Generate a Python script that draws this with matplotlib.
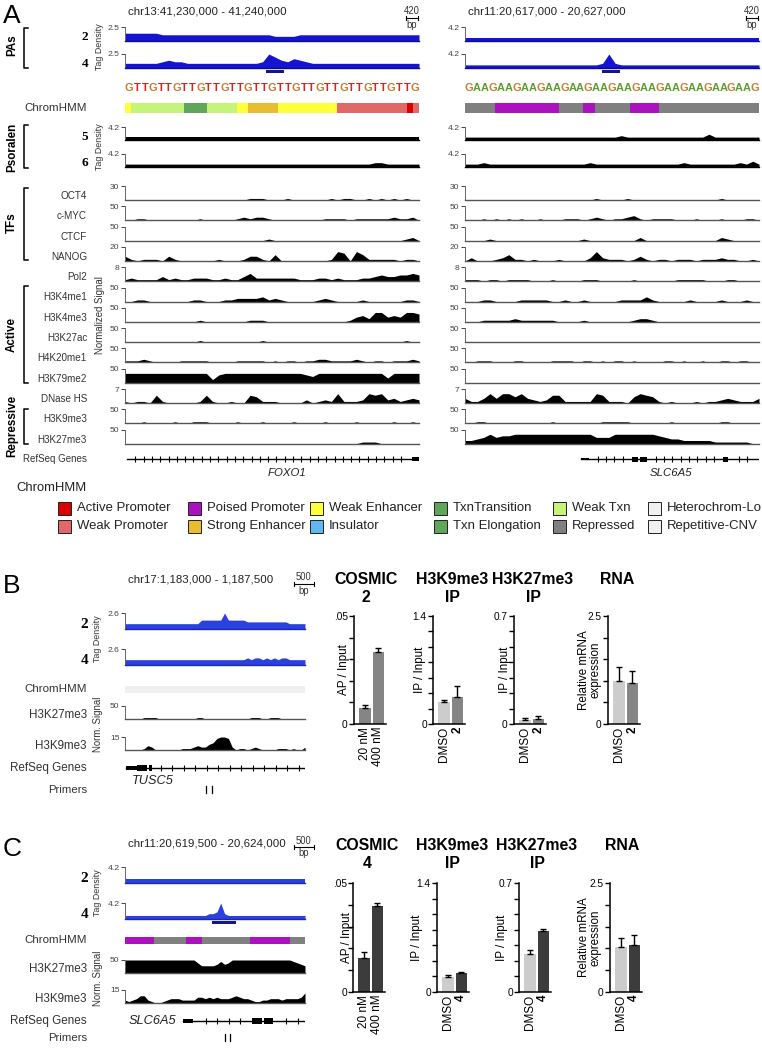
import matplotlib
matplotlib.use('Agg')
import matplotlib.pyplot as plt
import numpy as np
from matplotlib import font_manager
from matplotlib.patches import Rectangle

# the figure is set in a narrow Arial-like face; fall back to regular if missing
installed = {f.name for f in font_manager.fontManager.ttflist}
if 'Liberation Sans Narrow' in installed:
    SANS = ['Liberation Sans Narrow', 'DejaVu Sans']
    NARROW = 1.0
else:
    SANS = ['Liberation Sans', 'DejaVu Sans']
    NARROW = 0.86
SERIF = ['Liberation Serif', 'DejaVu Serif']
plt.rcParams['font.family'] = SANS

W, H = 762, 1049


def fs(size):
    return size * NARROW


# ---------------- data: panel A ----------------
A_LOCI = ['chr13:41,230,000 - 41,240,000', 'chr11:20,617,000 - 20,627,000']
A_WINDOW_BP = 10000
A_SCALE_BP = 420
A_SEQ = ['GTTGTTGTTGTTGTTGTTGTTGTTGTTGTTGTTGTTG',
         'GAAGAAGAAGAAGAAGAAGAAGAAGAAGAAGAAGAAG']

# tag density tracks, levels 0-9 of the track maximum
PA_LABELS = ['2', '4']
A_PA_MAX = [2.5, 4.2]
FOXO1_PA = ['5555554444' '4444444444' '4444333344' '4444444444' '44444444',
            '3333334544' '3333333333' '3349754654' '3333333333' '33333333']
SLC6A5_PA = ['2222222222' '2222222222' '2222222222' '2222222222' '22222222',
             '2222222222' '2222222222' '2239322222' '2222222222' '22222222']
A_PA_SITES = [(0.48, 0.54), (0.466, 0.527)]

PSO_LABELS = ['5', '6']
PSO_MAX = 4.2
FOXO1_PSO = ['2222222222' '2222222222' '2222222222' '2222222222' '22222222',
             '2222222222' '2222222222' '2222222222' '2222222222' '33222222']
SLC6A5_PSO = ['2222222222' '2222222222' '2222232222' '2222222224' '22222222',
              '2223222222' '2222222222' '3222222222' '2222232222' '22223242']

SIGNAL_NAMES = ['OCT4', 'c-MYC', 'CTCF', 'NANOG', 'Pol2', 'H3K4me1', 'H3K4me3',
                'H3K27ac', 'H4K20me1', 'H3K79me2', 'DNase HS', 'H3K9me3', 'H3K27me3']
SIGNAL_MAX = [30, 50, 50, 20, 8, 50, 50, 50, 50, 50, 7, 50, 50]
FOXO1_SIGNAL = [
    '0000000000' '0000000000' '1110001000' '0001011001' '01010100',
    '0011000000' '0010000012' '1221000000' '0011110111' '11121120',
    '0000000000' '0000000000' '0001000000' '0000000000' '00000120',
    '3101110310' '0000010001' '3310400000' '0001650641' '11110110',
    '1211113121' '1222112113' '5222222211' '1221211122' '34334454',
    '0011000000' '0110001122' '2231210000' '0121000010' '00000110',
    '0000000000' '0010000000' '1110000000' '0000001342' '66343665',
    '0000000000' '0010000000' '0010000000' '0000000000' '00000100',
    '1112100001' '1111000011' '1110101101' '1221111210' '11011121',
    '6666666666' '6666256666' '6666666665' '4666666666' '66366666',
    '1011051000' '0015100100' '5411100002' '0121611126' '56231232',
    '0001000010' '0111000010' '0010000100' '0010000100' '00010010',
    '0000000000' '0000000000' '0000000000' '0000000011' '10000000',
]
SLC6A5_SIGNAL = [
    '0000000000' '0000000000' '0100001000' '0000000000' '01000000',
    '0001010101' '0010001110' '1210112310' '1111000100' '01000110',
    '0000100000' '0000000001' '0000000020' '0000000000' '02100000',
    '0200012411' '0100010000' '2621110131' '0110111011' '12110010',
    '1110110111' '1000100001' '1100000100' '0000111110' '00110000',
    '0001100001' '1111001001' '0000011113' '1000001000' '01000100',
    '0001111121' '1111100001' '0000000122' '1000000000' '00000000',
    '0000000000' '0000000000' '0000000000' '0000000000' '00000000',
    '0011100011' '0000111101' '1010110100' '0011010010' '01101100',
    '0000000000' '0000000000' '0000000000' '0000000000' '00000000',
    '3113636646' '3212551111' '1651110465' '4101000101' '12321113',
    '0011000000' '0000100000' '0011111000' '0001000000' '01100000',
    '2234645566' '6666666666' '6444666666' '6543322222' '11111100',
]

STATE_NAMES = ['Active Promoter', 'Weak Promoter', 'Poised Promoter', 'Strong Enhancer',
               'Weak Enhancer', 'Insulator', 'TxnTransition', 'Txn Elongation',
               'Weak Txn', 'Repressed', 'Heterochrom-Lo', 'Repetitive-CNV']
STATE_COLORS = ['#dd0000', '#e06868', '#ab12bd', '#e8bd30', '#ffff3c', '#62b7ef',
                '#5fa55a', '#5fa55a', '#c4f47a', '#808080', '#f0f0f0', '#f0f0f0']
FOXO1_CHROM_EDGES = [0, 0.02, 0.20, 0.28, 0.38, 0.42, 0.52, 0.72, 0.96, 0.98, 1.0]
FOXO1_CHROM_STATES = ['Weak Enhancer', 'Weak Txn', 'Txn Elongation', 'Weak Txn',
                      'Weak Enhancer', 'Strong Enhancer', 'Weak Enhancer',
                      'Weak Promoter', 'Active Promoter', 'Weak Promoter']
SLC6A5_CHROM_EDGES = [0, 0.102, 0.321, 0.401, 0.442, 0.561, 0.661, 1.0]
SLC6A5_CHROM_STATES = ['Repressed', 'Poised Promoter', 'Repressed', 'Poised Promoter',
                       'Repressed', 'Poised Promoter', 'Repressed']

# gene models, as fractions of the window
FOXO1_SPAN = (0.007, 1.0)
FOXO1_UTRS = []
FOXO1_EXONS = [(0.976, 1.0)]
SLC6A5_A_SPAN = (0.395, 1.0)
SLC6A5_A_UTRS = [(0.395, 0.422)]
SLC6A5_A_EXONS = [(0.568, 0.588), (0.595, 0.619), (0.878, 0.895)]

# ---------------- data: panels B and C ----------------
B_LOCUS = 'chr17:1,183,000 - 1,187,500'
C_LOCUS = 'chr11:20,619,500 - 20,624,000'
BC_WINDOW_BP = 4500
BC_SCALE_BP = 500
B_PA_MAX = 2.6
C_PA_MAX = 4.2
B_PA = ['3333333333' '3333333333' '5555559555' '5544444444' '44433333',
        '3333333333' '3333333333' '3333333333' '3343443434' '34433333']
C_PA = ['2222222222' '2222222222' '2222222222' '2222222222' '22222222',
        '2222222222' '2222222222' '2233493222' '2222222222' '22222222']
C_PA_SITE = (0.483, 0.617)
BC_SIGNAL_NAMES = ['H3K27me3', 'H3K9me3']
BC_SIGNAL_MAX = [50, 15]
B_SIGNAL = ['0000011110' '0000000001' '1000000000' '0001110011' '10000000',
            '0000013200' '0000011123' '2245899820' '1101210000' '11101002']
C_SIGNAL = ['9999999999' '9999999997' '5555686799' '9999999999' '99998765',
            '2123552100' '1233322224' '4343433345' '4332112233' '32333347']
B_CHROM_EDGES = [0, 1.0]
B_CHROM_STATES = ['Heterochrom-Lo']
C_CHROM_EDGES = [0, 0.161, 0.339, 0.43, 0.694, 0.917, 1.0]
C_CHROM_STATES = ['Poised Promoter', 'Repressed', 'Poised Promoter', 'Repressed',
                  'Poised Promoter', 'Repressed']
TUSC5_SPAN = (0.006, 1.0)
TUSC5_UTRS = [(0.006, 0.067)]
TUSC5_EXONS = [(0.067, 0.122), (0.133, 0.15)]
SLC6A5_C_SPAN = (0.322, 1.0)
SLC6A5_C_UTRS = [(0.322, 0.378)]
SLC6A5_C_EXONS = [(0.706, 0.761), (0.772, 0.822)]
B_PRIMERS = [0.45, 0.483]
C_PRIMERS = [0.556, 0.583]

BAR_YLABELS = ['AP / Input', 'IP / Input', 'IP / Input', 'Relative mRNA\nexpression']
BAR_YMAX = [0.05, 1.4, 0.7, 2.5]
BAR_YSTEP = [0.01, 0.2, 0.1, 0.5]
BAR_TOPLABEL = ['.05', '1.4', '0.7', '2.5']
B_TITLES = [['COSMIC', '2'], ['H3K9me3', 'IP'], ['H3K27me3', 'IP'], ['RNA']]
C_TITLES = [['COSMIC', '4'], ['H3K9me3', 'IP'], ['H3K27me3', 'IP'], ['RNA']]
B_CATS = [['20 nM', '400 nM'], ['DMSO', '2'], ['DMSO', '2'], ['DMSO', '2']]
C_CATS = [['20 nM', '400 nM'], ['DMSO', '4'], ['DMSO', '4'], ['DMSO', '4']]
B_VALUES = [[0.0074, 0.0334], [0.28, 0.354], [0.028, 0.035], [0.99, 0.946]]
B_ERRORS = [[0.0012, 0.0016], [0.027, 0.136], [0.011, 0.017], [0.33, 0.29]]
C_VALUES = [[0.0157, 0.0394], [0.19, 0.241], [0.2455, 0.394], [1.023, 1.077]]
C_ERRORS = [[0.0028, 0.0016], [0.034, 0.022], [0.0235, 0.011], [0.207, 0.223]]
B_COLORS = [['#858585', '#858585'], ['#cccccc', '#858585'],
            ['#cccccc', '#858585'], ['#cccccc', '#858585']]
C_COLORS = [['#3c3c3c', '#3c3c3c'], ['#cccccc', '#3c3c3c'],
            ['#cccccc', '#3c3c3c'], ['#cccccc', '#3c3c3c']]

# ---------------- helpers ----------------
fig = plt.figure(figsize=(W / 100, H / 100), dpi=100)


def px_axes(x, y, w, h):
    ax = fig.add_axes([x / W, 1 - (y + h) / H, w / W, h / H])
    ax.patch.set_visible(False)
    return ax


ov = px_axes(0, 0, W, H)
ov.set_xlim(0, W)
ov.set_ylim(H, 0)
ov.axis('off')

TXT = '#333333'
BLUE_A = '#1414d2'
BLUE_BC = '#2a40e0'
NAVY = '#14148f'


def label(x, y, s, size, ha='right', **kw):
    kw.setdefault('color', TXT)
    ov.text(x, y, s, fontsize=fs(size), ha=ha, va='center', **kw)


def rot_label(x, y, s, size, **kw):
    kw.setdefault('color', TXT)
    ov.text(x, y, s, fontsize=fs(size), ha='center', va='center', rotation=90, **kw)


def track(x, top, base, w, s, vmax, color='black', base_color='#555555'):
    ax = px_axes(x, top, w, base - top)
    v = np.array([int(c) for c in s]) / 9.0 * vmax
    xs = np.arange(len(v))
    ax.fill_between(xs, v, 0, color=color, lw=0)
    ax.set_xlim(0, len(v) - 1)
    ax.set_ylim(0, vmax)
    ax.set_xticks([])
    ax.set_yticks([vmax])
    ax.set_yticklabels(['%g' % vmax])
    ax.tick_params(axis='y', length=3, width=0.7, pad=1, labelsize=fs(7.1),
                   colors='#444444')
    ax.spines['top'].set_visible(False)
    ax.spines['right'].set_visible(False)
    ax.spines['left'].set_color('#666666')
    ax.spines['left'].set_linewidth(0.7)
    ax.spines['bottom'].set_color(base_color)
    ax.spines['bottom'].set_linewidth(1.0)
    return ax


def chrom_bar(x, top, h, w, edges, states):
    ax = px_axes(x, top, w, h)
    for a, b, st in zip(edges[:-1], edges[1:], states):
        ax.barh(0, b - a, left=a, height=1, color=STATE_COLORS[STATE_NAMES.index(st)], lw=0)
    ax.set_xlim(0, 1)
    ax.set_ylim(-0.5, 0.5)
    ax.axis('off')


def gene(x, y, w, span, utrs, exons, step_px, exon_h, utr_h):
    ax = px_axes(x, y - 7, w, 14)
    ax.set_xlim(0, 1)
    ax.set_ylim(-7, 7)
    ax.axis('off')
    ax.plot(span, [0, 0], color='black', lw=1)
    for a, b in utrs:
        ax.add_patch(Rectangle((a, -utr_h / 2), b - a, utr_h, color='black', lw=0))
    for a, b in exons:
        ax.add_patch(Rectangle((a, -exon_h / 2), b - a, exon_h, color='black', lw=0))
    step = step_px / w
    blocks = list(utrs) + list(exons)
    t = np.arange(span[0] + step, span[1] - step / 2, step)
    t = [p for p in t if not any(a - step * 0.4 <= p <= b + step * 0.4 for a, b in blocks)]
    ax.plot(t, np.zeros(len(t)), ls='none', marker='|', ms=4.5, mew=0.8,
            color='black', clip_on=False)


def scale_bar(xc, y, bp, window_bp, track_w):
    half = bp / window_bp * track_w / 2
    ov.plot([xc - half, xc + half], [y, y], color='black', lw=0.8)
    ov.plot([xc - half, xc - half], [y - 2, y + 2], color='black', lw=0.8)
    ov.plot([xc + half, xc + half], [y - 2, y + 2], color='black', lw=0.8)
    ov.text(xc, y - 1.5, str(bp), ha='center', va='bottom', fontsize=fs(8), color=TXT)
    ov.text(xc, y + 1.5, 'bp', ha='center', va='top', fontsize=fs(8), color=TXT)


def bracket(y0, y1, text, ty):
    ov.plot([28, 24, 24, 28], [y0, y0, y1, y1], color='black', lw=1.1)
    ov.text(12, ty, text, rotation=90, ha='center', va='center',
            fontsize=fs(9.7), fontweight='bold')


# ---------------- panel A ----------------
ov.text(3, 16, 'A', fontsize=19, ha='left', va='center')
LX = [125, 465]
TW = 294
PA_TOPS = [27, 54]
PSO_TOPS = [127, 154]
SIG_TOPS = [186 + 20.3 * i for i in range(len(SIGNAL_NAMES))]
SEQ_COLORS = {'G': '#c47c32', 'T': '#cc2a1e', 'A': '#5a9e2c'}

for k in range(2):
    x0 = LX[k]
    ov.text(x0 + 3, 12, A_LOCI[k], fontsize=fs(9.6), ha='left', va='center', color='#222222')
    scale_bar(x0 + TW - 7, 18, A_SCALE_BP, A_WINDOW_BP, TW)
    pa = [FOXO1_PA, SLC6A5_PA][k]
    for j in range(2):
        track(x0, PA_TOPS[j], PA_TOPS[j] + 14, TW, pa[j], A_PA_MAX[k],
              color=BLUE_A, base_color='#0c0c90')
    a, b = A_PA_SITES[k]
    ov.add_patch(Rectangle((x0 + a * TW, 69.5), (b - a) * TW, 3.5, color=NAVY, lw=0))
    seq = A_SEQ[k]
    for j, ch in enumerate(seq):
        ov.text(x0 + (j + 0.5) * TW / len(seq), 88, ch, color=SEQ_COLORS[ch],
                fontsize=fs(9.2), fontweight='bold', ha='center', va='center')
    chrom_bar(x0, 103, 10, TW, [FOXO1_CHROM_EDGES, SLC6A5_CHROM_EDGES][k],
              [FOXO1_CHROM_STATES, SLC6A5_CHROM_STATES][k])
    pso = [FOXO1_PSO, SLC6A5_PSO][k]
    for j in range(2):
        track(x0, PSO_TOPS[j], PSO_TOPS[j] + 13, TW, pso[j], PSO_MAX,
              base_color='black')
    sig = [FOXO1_SIGNAL, SLC6A5_SIGNAL][k]
    for j in range(len(SIGNAL_NAMES)):
        track(x0, SIG_TOPS[j], SIG_TOPS[j] + 14, TW, sig[j], SIGNAL_MAX[j])

gene(LX[0], 459, TW, FOXO1_SPAN, FOXO1_UTRS, FOXO1_EXONS, 8.3, 4.4, 2.4)
gene(LX[1], 459, TW, SLC6A5_A_SPAN, SLC6A5_A_UTRS, SLC6A5_A_EXONS, 8.3, 5.0, 2.6)
ov.text(LX[0] + 0.55 * TW, 473, 'FOXO1', fontsize=fs(9.5), style='italic',
        ha='center', va='center', color='#222222')
ov.text(LX[1] + 0.70 * TW, 473, 'SLC6A5', fontsize=fs(9.5), style='italic',
        ha='center', va='center', color='#222222')

# left-hand labels of panel A
for j, lab in enumerate(PA_LABELS):
    ov.text(88, PA_TOPS[j] + 10, lab, fontsize=9.5, fontweight='bold', family=SERIF,
            ha='right', va='center')
for j, lab in enumerate(PSO_LABELS):
    ov.text(88, PSO_TOPS[j] + 9.5, lab, fontsize=9.5, fontweight='bold', family=SERIF,
            ha='right', va='center')
for j, name in enumerate(SIGNAL_NAMES):
    label(87, SIG_TOPS[j] + 10, name, 8.3)
label(87, 108, 'ChromHMM', 9.6)
label(87, 459, 'RefSeq Genes', 8.2)
rot_label(99, 47, 'Tag Density', 7.4)
rot_label(99, 147, 'Tag Density', 7.4)
rot_label(100, 315, 'Normalized Signal', 8.1)
bracket(28, 68, 'PAs', 45)
bracket(125, 168, 'Psoralen', 147)
bracket(188, 260, 'TFs', 223)
bracket(286, 383, 'Active', 335)
bracket(409, 444, 'Repressive', 426)

# ChromHMM legend
label(87, 488, 'ChromHMM', 10.9, color='#222222')
LEG_X = [58, 188, 310, 434, 553, 648]
LEG_Y = [508, 526]
for i, (name, col) in enumerate(zip(STATE_NAMES, STATE_COLORS)):
    cx, cy = LEG_X[i // 2], LEG_Y[i % 2]
    ov.add_patch(Rectangle((cx, cy - 6.5), 13, 13, facecolor=col, edgecolor='#222222', lw=0.7))
    ov.text(cx + 19, cy, name, fontsize=fs(11), ha='left', va='center', color='#222222')


# ---------------- panels B and C ----------------
def bc_panel(letter, locus, ly, pa, pa_max, pa_tops, site, chrom_top, chrom_edges,
             chrom_states, sig, sig_tops, gene_y, span, utrs, exons, gene_name,
             gene_label_x, primers, primer_y, tag_y, norm_y):
    x0, tw = 125, 180
    ov.text(3, ly + 6, letter, fontsize=19, ha='left', va='center')
    ov.text(x0 + 3, ly, locus, fontsize=fs(9.6), ha='left', va='center', color='#222222')
    scale_bar(304, ly + 4, BC_SCALE_BP, BC_WINDOW_BP, tw)
    for j in range(2):
        track(x0, pa_tops[j], pa_tops[j] + 16, tw, pa[j], pa_max,
              color=BLUE_BC, base_color='#1a2aa8')
        ov.text(88, pa_tops[j] + 12, PA_LABELS[j], fontsize=11, fontweight='bold',
                family=SERIF, ha='right', va='center')
    if site is not None:
        a, b = site
        ov.add_patch(Rectangle((x0 + a * tw, pa_tops[1] + 18), (b - a) * tw, 2.5,
                               color=NAVY, lw=0))
    chrom_bar(x0, chrom_top, 7, tw, chrom_edges, chrom_states)
    label(87, chrom_top + 3, 'ChromHMM', 9.6)
    for j, name in enumerate(BC_SIGNAL_NAMES):
        track(x0, sig_tops[j], sig_tops[j] + 13, tw, sig[j], BC_SIGNAL_MAX[j])
        label(87, sig_tops[j] + 9, name, 9.7)
    gene(x0, gene_y, tw, span, utrs, exons, 11.5, 6.4, 3.3)
    label(87, gene_y, 'RefSeq Genes', 9.7)
    ov.text(gene_label_x[0], gene_label_x[1], gene_name, fontsize=fs(10.7),
            style='italic', ha='center', va='center', color='#222222')
    label(87, primer_y + 2, 'Primers', 9.5)
    for p in primers:
        ov.plot([x0 + p * tw] * 2, [primer_y - 2, primer_y + 5], color='black', lw=0.9)
    rot_label(98, tag_y, 'Tag Density', 7.4)
    rot_label(98, norm_y, 'Norm. Signal', 8.1)


def bar_row(spines, top, bottom, title_x, title_y, titles, ylab_x, cats, values,
            errors, colors):
    for i in range(4):
        ax = px_axes(spines[i], top, 32, bottom - top)
        pos = np.arange(2)
        ax.bar(pos, values[i], width=0.85, color=colors[i], lw=0)
        ax.errorbar(pos, values[i], yerr=[np.zeros(2), errors[i]], fmt='none',
                    ecolor='black', elinewidth=1, capsize=2.2, capthick=1)
        ax.set_xlim(-0.8, 1.57)
        ax.set_ylim(0, BAR_YMAX[i])
        ticks = np.arange(0, BAR_YMAX[i] + BAR_YSTEP[i] / 2, BAR_YSTEP[i])
        ax.set_yticks(ticks)
        ax.set_yticklabels(['0'] + [''] * (len(ticks) - 2) + [BAR_TOPLABEL[i]])
        ax.tick_params(axis='y', length=3.5, width=1, pad=1, labelsize=fs(8.5))
        ax.set_xticks(pos)
        ax.set_xticklabels(cats[i], rotation=90, fontsize=fs(9.8))
        ax.tick_params(axis='x', length=0, pad=2)
        for t in ax.get_xticklabels():
            if t.get_text() in ('2', '4'):
                t.set_fontweight('bold')
        ax.spines['top'].set_visible(False)
        ax.spines['right'].set_visible(False)
        ax.spines['left'].set_linewidth(1.1)
        ax.spines['bottom'].set_linewidth(1.1)
        ov.text(ylab_x[i], (top + bottom) / 2, BAR_YLABELS[i], rotation=90,
                fontsize=fs(9.7), ha='center', va='center', linespacing=1.0)
        for k, line in enumerate(titles[i]):
            ov.text(title_x[i], title_y + 18 * k, line, fontsize=fs(13.3),
                    fontweight='bold', ha='center', va='center')


bc_panel('B', B_LOCUS, 580, B_PA, B_PA_MAX, [613, 649], None, 686, B_CHROM_EDGES,
         B_CHROM_STATES, B_SIGNAL, [706, 737], 768, TUSC5_SPAN, TUSC5_UTRS,
         TUSC5_EXONS, 'TUSC5', (153, 781), B_PRIMERS, 788, 639, 724)
bar_row([354, 433, 514, 608], 616, 724, [366, 452, 533, 617], 580, B_TITLES,
        [344, 420, 505, 590], B_CATS, B_VALUES, B_ERRORS, B_COLORS)

bc_panel('C', C_LOCUS, 843, C_PA, C_PA_MAX, [867, 903], C_PA_SITE, 937,
         C_CHROM_EDGES, C_CHROM_STATES, C_SIGNAL, [960, 990], 1021, SLC6A5_C_SPAN,
         SLC6A5_C_UTRS, SLC6A5_C_EXONS, 'SLC6A5', (152, 1021), C_PRIMERS, 1036,
         893, 978)
bar_row([353, 437, 519, 610], 883, 992, [367, 452, 537, 622], 845, C_TITLES,
        [347, 417, 502, 590], C_CATS, C_VALUES, C_ERRORS, C_COLORS)

fig.savefig('out.png', dpi=100)
